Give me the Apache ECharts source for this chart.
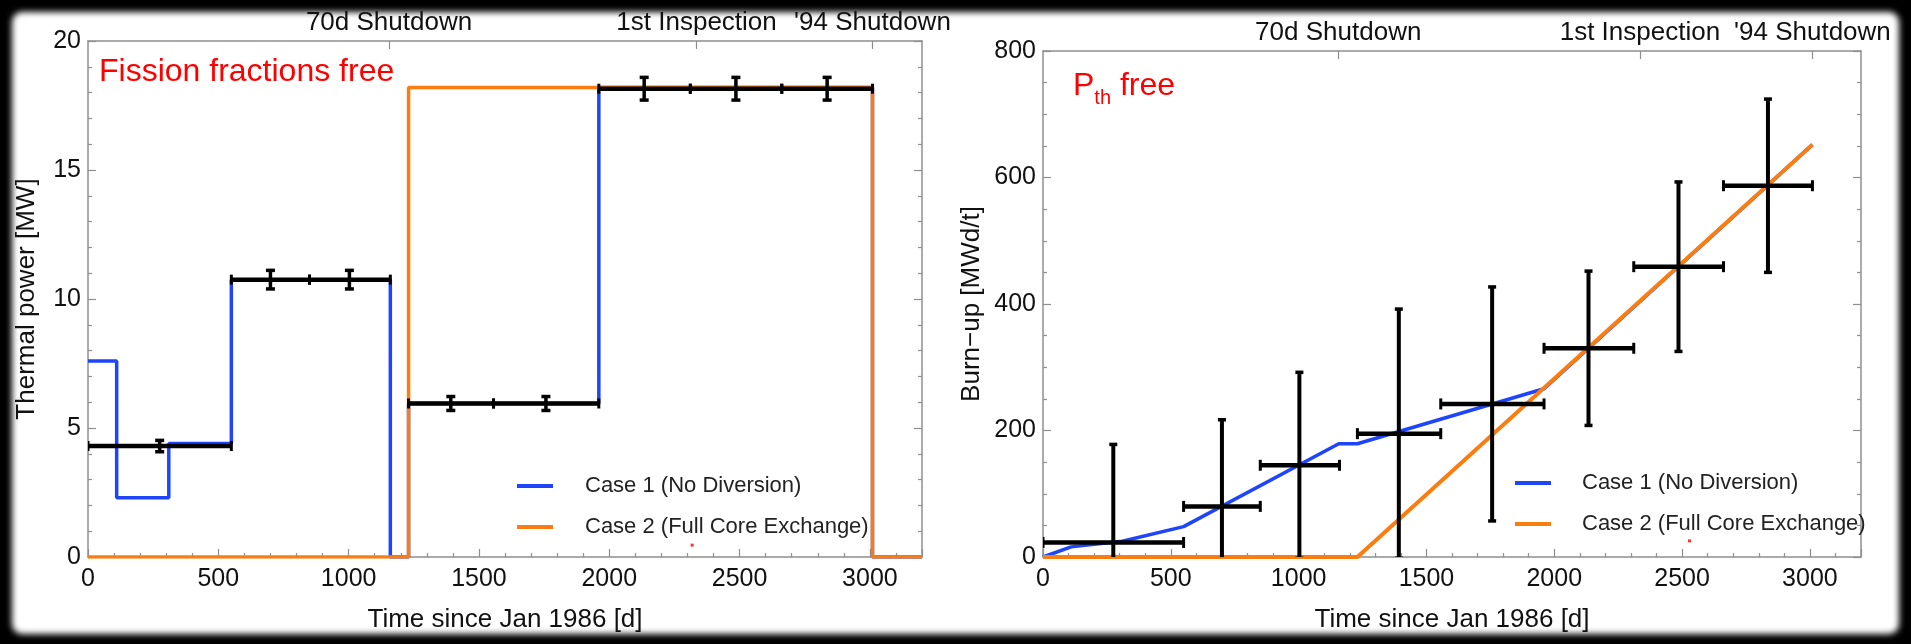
<!DOCTYPE html>
<html>
<head>
<meta charset="utf-8">
<script src="https://cdn.jsdelivr.net/npm/echarts@6/dist/echarts.min.js"></script>
<style>
  html, body { margin: 0; padding: 0; width: 1911px; height: 644px; background: #000; overflow: hidden; }
  #panel { position: absolute; left: 12px; top: 12px; width: 1887px; height: 622px; background: #fff; border-radius: 10px; filter: blur(3px); }
  #chart { position: absolute; left: 0; top: 0; width: 1911px; height: 644px; }
</style>
</head>
<body>
<div id="panel"></div>
<div id="chart"></div>
<script>
// Time axis: days since Jan 1986
const dayMax = 3200;
const eventDays = [1155, 2335, 3010];
const eventLabels = ['70d Shutdown', '1st Inspection', "'94 Shutdown"];

// Thermal power histories [day, MW]; each value holds until the next day
const powerCase1 = [[0, 7.6], [110, 2.3], [310, 4.4], [550, 10.75], [1160, 0], [1230, 5.95], [1960, 18.2], [3010, 0], [3200, 0]];
const powerCase2 = [[0, 0], [1230, 18.2], [3010, 0], [3200, 0]];

// Accumulated burn-up [day, MWd/t]
const burnupCase1 = [[0, 0], [110, 16], [310, 25], [550, 48], [1157, 179], [1230, 179], [1960, 266], [3010, 652]];
const burnupCase2 = [[0, 0], [1230, 0], [3010, 652]];

// Fit intervals (days)
const binStart = [0, 550, 850, 1230, 1556, 1960, 2311, 2662];
const binEnd = [550, 850, 1160, 1556, 1960, 2311, 2662, 3010];
const binCenter = [275, 700, 1003, 1392, 1757, 2134, 2486, 2836];

// Fitted thermal power (fission fractions free)
const powerFit = [4.3, 10.75, 10.75, 5.95, 5.95, 18.15, 18.15, 18.15];
const powerErr = [0.22, 0.36, 0.36, 0.27, 0.27, 0.44, 0.44, 0.44];

// Fitted burn-up (P_th free)
const burnupFit = [23, 80, 145, 195, 242, 330, 459, 587];
const burnupErr = [155, 137, 147, 197, 185, 122, 134, 137];

// Small red specks near the legends
const specksPower = [[2318, 0.46]];
const specksBurnup = [[2529, 25.5]];

const FONT = 'Liberation Sans';
const GRAY = '#8f8f8f';
const INK = '#111';
const BLUE = '#1f45fc';
const ORANGE = '#fb7d10';
const NAME1 = 'Case 1 (No Diversion)';
const NAME2 = 'Case 2 (Full Core Exchange)';

function fitRows(fit, err) {
  return binCenter.map((c, i) => [c, fit[i], binStart[i], binEnd[i], fit[i] - err[i], fit[i] + err[i]]);
}

function errorBarRenderer(hWidth, vWidth, capX, capY) {
  return function (params, api) {
    const y = api.value(1);
    const c = api.coord([api.value(0), y]);
    const xl = api.coord([api.value(2), y])[0];
    const xh = api.coord([api.value(3), y])[0];
    const yl = api.coord([api.value(0), api.value(4)])[1];
    const yh = api.coord([api.value(0), api.value(5)])[1];
    const seg = (x1, y1, x2, y2, w) => ({
      type: 'line', shape: { x1, y1, x2, y2 }, style: { stroke: '#000', lineWidth: w }
    });
    return {
      type: 'group',
      children: [
        seg(c[0], yl, c[0], yh, vWidth),
        seg(c[0] - capX, yl, c[0] + capX, yl, 3.5),
        seg(c[0] - capX, yh, c[0] + capX, yh, 3.5),
        seg(xl, c[1], xh, c[1], hWidth),
        seg(xl, c[1] - capY, xl, c[1] + capY, 3),
        seg(xh, c[1] - capY, xh, c[1] + capY, 3)
      ]
    };
  };
}

const tickLine = { color: GRAY, width: 1.2 };
const plain = v => String(v);

function bottomAxis(grid) {
  return {
    type: 'value', gridIndex: grid, position: 'bottom', min: 0, max: dayMax, interval: 500,
    name: 'Time since Jan 1986 [d]', nameLocation: 'middle', nameGap: 50,
    nameTextStyle: { fontFamily: FONT, fontSize: 26, color: INK },
    axisLine: { show: true, onZero: false, lineStyle: { color: GRAY, width: 1.5 } },
    axisTick: { show: true, inside: true, length: 8, lineStyle: tickLine },
    minorTick: { show: true, splitNumber: 5, length: 4, lineStyle: tickLine },
    axisLabel: { fontFamily: FONT, fontSize: 25, color: INK, margin: 10, showMaxLabel: false, formatter: plain },
    splitLine: { show: false }, minorSplitLine: { show: false }
  };
}

function topAxis(grid) {
  return {
    type: 'value', gridIndex: grid, position: 'top', min: 0, max: dayMax,
    axisLine: { show: true, onZero: false, lineStyle: { color: GRAY, width: 1.5 } },
    axisTick: { show: true, inside: true, length: 8, lineStyle: tickLine, customValues: eventDays },
    axisLabel: {
      show: true, customValues: eventDays, fontFamily: FONT, fontSize: 26, color: INK, margin: 5,
      formatter: v => eventLabels[eventDays.indexOf(v)] || ''
    },
    splitLine: { show: false }
  };
}

function leftAxis(grid, max, interval, minorSplit, name, gap) {
  return {
    type: 'value', gridIndex: grid, position: 'left', min: 0, max, interval,
    name, nameLocation: 'middle', nameGap: gap,
    nameTextStyle: { fontFamily: FONT, fontSize: 26, color: INK },
    axisLine: { show: true, onZero: false, lineStyle: { color: GRAY, width: 1.5 } },
    axisTick: { show: true, inside: true, length: 8, lineStyle: tickLine },
    minorTick: { show: true, splitNumber: minorSplit, length: 4, lineStyle: tickLine },
    axisLabel: { fontFamily: FONT, fontSize: 25, color: INK, margin: 7, formatter: plain },
    splitLine: { show: false }, minorSplitLine: { show: false }
  };
}

function rightAxis(grid, max, interval, minorSplit) {
  return {
    type: 'value', gridIndex: grid, position: 'right', min: 0, max, interval,
    axisLine: { show: true, onZero: false, lineStyle: { color: GRAY, width: 1.5 } },
    axisTick: { show: true, inside: true, length: 8, lineStyle: tickLine },
    minorTick: { show: true, splitNumber: minorSplit, length: 4, lineStyle: tickLine },
    axisLabel: { show: false },
    splitLine: { show: false }, minorSplitLine: { show: false }
  };
}

function legendAt(left, top, pad) {
  return {
    orient: 'vertical', left, top, padding: 0, itemWidth: 36, itemHeight: 4, itemGap: 19,
    icon: 'rect', selectedMode: false,
    textStyle: { fontFamily: FONT, fontSize: 22, color: '#222', padding: [0, 0, 0, pad] },
    data: [NAME1, NAME2]
  };
}

const chart = echarts.init(document.getElementById('chart'), null, { renderer: 'canvas' });

chart.setOption({
  backgroundColor: 'transparent',
  animation: false,
  textStyle: { fontFamily: FONT },
  title: [
    {
      text: 'Fission fractions free', left: 99, top: 56, padding: 0,
      textStyle: { fontFamily: FONT, fontSize: 32, fontWeight: 'normal', color: '#ff0000' }
    },
    {
      text: '{p|P}{s|th}{p| free}', left: 1073, top: 70, padding: 0,
      textStyle: {
        fontFamily: FONT, fontWeight: 'normal', color: '#ff0000',
        rich: {
          p: { fontFamily: FONT, fontSize: 32, color: '#ff0000', verticalAlign: 'top', lineHeight: 32 },
          s: { fontFamily: FONT, fontSize: 20, color: '#ff0000', verticalAlign: 'top', lineHeight: 20, padding: [18, 0, 0, 0] }
        }
      }
    }
  ],
  grid: [
    { left: 88, top: 41, width: 834, height: 516, containLabel: false, outerBoundsMode: 'none' },
    { left: 1043, top: 51, width: 818, height: 506, containLabel: false, outerBoundsMode: 'none' }
  ],
  xAxis: [bottomAxis(0), topAxis(0), bottomAxis(1), topAxis(1)],
  yAxis: [
    leftAxis(0, 20, 5, 5, 'Thermal power [MW]', 48),
    rightAxis(0, 20, 5, 5),
    leftAxis(1, 800, 200, 4, 'Burn\u2212up [MWd/t]', 58),
    rightAxis(1, 800, 200, 4)
  ],
  legend: [legendAt(517, 475, 27), legendAt(1515, 472, 26)],
  series: [
    {
      name: NAME1, type: 'line', xAxisIndex: 0, yAxisIndex: 0, step: 'end', data: powerCase1,
      symbol: 'none', color: BLUE, lineStyle: { color: BLUE, width: 3.5 }, z: 2
    },
    {
      name: NAME2, type: 'line', xAxisIndex: 0, yAxisIndex: 0, step: 'end', data: powerCase2,
      symbol: 'none', color: ORANGE, lineStyle: { color: ORANGE, width: 3.5 }, z: 3
    },
    {
      type: 'custom', xAxisIndex: 0, yAxisIndex: 0, data: fitRows(powerFit, powerErr),
      renderItem: errorBarRenderer(4.5, 3.5, 4.5, 5), clip: true, z: 5
    },
    {
      type: 'scatter', xAxisIndex: 0, yAxisIndex: 0, data: specksPower, symbol: 'rect', symbolSize: 3,
      itemStyle: { color: '#ff0000' }, silent: true, z: 6
    },
    {
      name: NAME1, type: 'line', xAxisIndex: 2, yAxisIndex: 2, data: burnupCase1,
      symbol: 'none', color: BLUE, lineStyle: { color: BLUE, width: 3.5 }, z: 2
    },
    {
      name: NAME2, type: 'line', xAxisIndex: 2, yAxisIndex: 2, data: burnupCase2,
      symbol: 'none', color: ORANGE, lineStyle: { color: ORANGE, width: 4 }, z: 3
    },
    {
      type: 'custom', xAxisIndex: 2, yAxisIndex: 2, data: fitRows(burnupFit, burnupErr),
      renderItem: errorBarRenderer(4.5, 4, 4, 5.5), clip: true, z: 5
    },
    {
      type: 'scatter', xAxisIndex: 2, yAxisIndex: 2, data: specksBurnup, symbol: 'rect', symbolSize: 3,
      itemStyle: { color: '#ff0000' }, silent: true, z: 6
    }
  ]
});
</script>
</body>
</html>
